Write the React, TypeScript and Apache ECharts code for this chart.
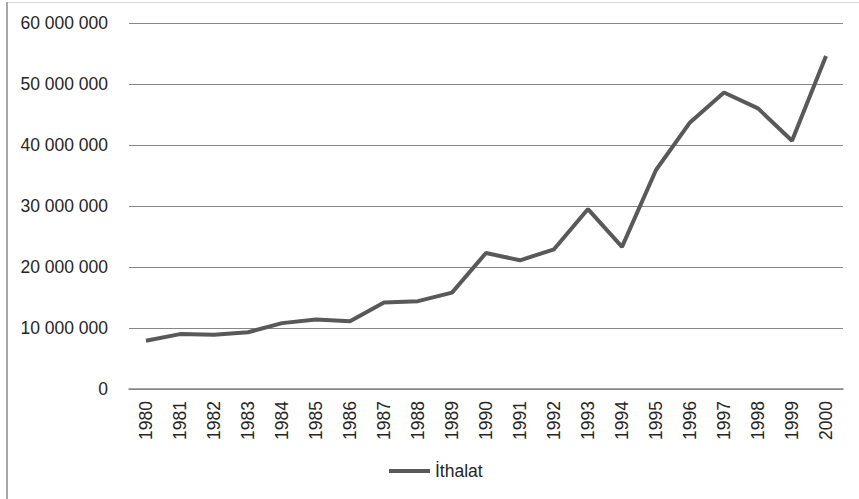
import React, { useEffect, useRef } from "react";
import * as echarts from "echarts";

const categories = ["1980","1981","1982","1983","1984","1985","1986","1987","1988","1989","1990","1991","1992","1993","1994","1995","1996","1997","1998","1999","2000"];
const ithalat = [7900000, 9000000, 8900000, 9300000, 10800000, 11400000, 11100000, 14200000, 14400000, 15800000, 22300000, 21100000, 22900000, 29500000, 23300000, 35900000, 43700000, 48600000, 46000000, 40700000, 54600000];
const seriesName = "İthalat";

const FONT = "Liberation Sans";
const TEXT = "#262626";

function fmt(v: number): string {
  return String(Math.round(v)).replace(/\B(?=(\d{3})+(?!\d))/g, " ");
}

export default function App() {
  const ref = useRef<HTMLDivElement>(null);
  useEffect(() => {
    if (!ref.current) return;
    const chart = echarts.init(ref.current, undefined, { renderer: "svg" });
    chart.setOption({
      animation: false,
      backgroundColor: "#ffffff",
      textStyle: { fontFamily: FONT },
      grid: { left: 129, right: 16, top: 23, bottom: 110, containLabel: false },
      xAxis: {
        type: "category",
        data: categories,
        boundaryGap: true,
        axisLine: { show: true, lineStyle: { color: "#868686", width: 1.5 } },
        axisTick: { show: false },
        axisLabel: { rotate: 90, margin: 12, color: TEXT, fontSize: 17.5, fontFamily: FONT },
        splitLine: { show: false },
      },
      yAxis: {
        type: "value",
        min: 0,
        max: 60000000,
        interval: 10000000,
        axisLine: { show: false },
        axisTick: { show: false },
        axisLabel: { margin: 21, color: TEXT, fontSize: 17.5, fontFamily: FONT, formatter: (v: number) => fmt(v) },
        splitLine: { show: true, lineStyle: { color: "#868686", width: 1 } },
      },
      legend: {
        data: [seriesName],
        left: 389,
        top: 462,
        padding: 0,
        icon: "rect",
        itemWidth: 41,
        itemHeight: 4,
        textStyle: { color: TEXT, fontSize: 17.5, fontFamily: FONT },
      },
      series: [
        {
          name: seriesName,
          type: "line",
          data: ithalat,
          showSymbol: false,
          symbol: "none",
          lineStyle: { color: "#595959", width: 4 },
          itemStyle: { color: "#595959" },
        },
      ],
      graphic: [
        { type: "line", shape: { x1: 8, y1: 2.5, x2: 859, y2: 2.5 }, style: { stroke: "#d9d9d9", lineWidth: 1 } },
        { type: "line", shape: { x1: 7, y1: 2, x2: 7, y2: 499 }, style: { stroke: "#8a8a8a", lineWidth: 1.5 } },
      ],
    });
    return () => chart.dispose();
  }, []);
  return <div ref={ref} style={{ position: "absolute", left: 0, top: 0, width: 859, height: 499 }} />;
}
